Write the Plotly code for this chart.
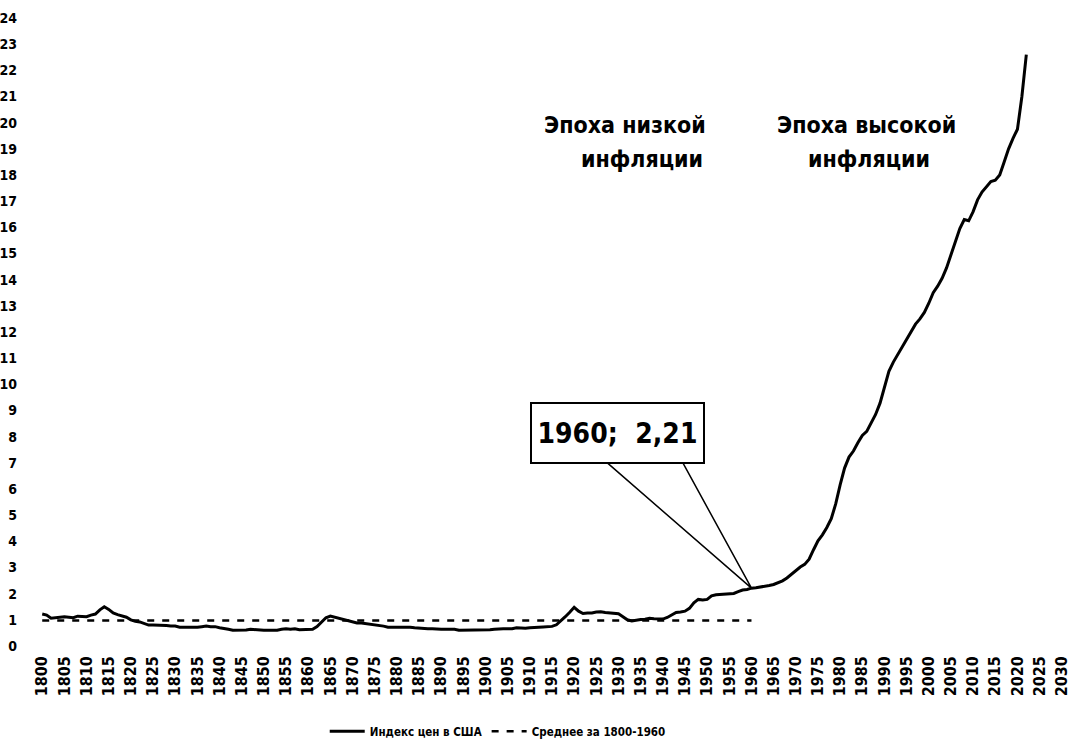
import plotly.graph_objects as go

years = list(range(1800, 2023))
price_index = [
    1.22, 1.18, 1.06, 1.08, 1.10, 1.12, 1.10, 1.08, 1.14, 1.12,   # 1800-1809
    1.12, 1.18, 1.22, 1.38, 1.50, 1.40, 1.26, 1.20, 1.14, 1.10,   # 1810-1819
    1.00, 0.94, 0.92, 0.86, 0.80, 0.80, 0.80, 0.80, 0.78, 0.76,   # 1820-1829
    0.76, 0.72, 0.72, 0.70, 0.72, 0.72, 0.74, 0.76, 0.74, 0.74,   # 1830-1839
    0.70, 0.68, 0.64, 0.60, 0.60, 0.60, 0.61, 0.64, 0.62, 0.60,   # 1840-1849
    0.60, 0.60, 0.60, 0.60, 0.64, 0.66, 0.64, 0.66, 0.62, 0.62,   # 1850-1859
    0.62, 0.64, 0.74, 0.92, 1.08, 1.14, 1.10, 1.04, 1.00, 0.98,   # 1860-1869
    0.94, 0.88, 0.88, 0.86, 0.82, 0.80, 0.78, 0.76, 0.72, 0.72,   # 1870-1879
    0.74, 0.74, 0.74, 0.72, 0.70, 0.68, 0.66, 0.66, 0.66, 0.64,   # 1880-1889
    0.64, 0.64, 0.64, 0.64, 0.60, 0.60, 0.60, 0.60, 0.60, 0.60,   # 1890-1899
    0.62, 0.62, 0.64, 0.66, 0.66, 0.66, 0.66, 0.70, 0.68, 0.68,   # 1900-1909
    0.70, 0.70, 0.72, 0.73, 0.74, 0.75, 0.81, 0.95, 1.12, 1.29,   # 1910-1919
    1.48, 1.33, 1.24, 1.26, 1.26, 1.30, 1.31, 1.28, 1.26, 1.26,   # 1920-1929
    1.23, 1.12, 1.00, 0.96, 0.99, 1.01, 1.02, 1.06, 1.04, 1.03,   # 1930-1939
    1.03, 1.09, 1.20, 1.28, 1.30, 1.33, 1.44, 1.65, 1.78, 1.76,   # 1940-1949
    1.78, 1.92, 1.96, 1.97, 1.98, 1.98, 2.01, 2.08, 2.14, 2.16,   # 1950-1959
    2.21, 2.23, 2.25, 2.28, 2.31, 2.35, 2.42, 2.49, 2.60, 2.74,   # 1960-1969
    2.90, 3.02, 3.12, 3.32, 3.68, 4.02, 4.25, 4.53, 4.87, 5.43,   # 1970-1979
    6.16, 6.80, 7.22, 7.45, 7.77, 8.05, 8.20, 8.50, 8.85, 9.28,   # 1980-1989
    9.85, 10.50, 10.85, 11.15, 11.45, 11.75, 12.05, 12.30, 12.50, 12.75,  # 1990-1999
    13.10, 13.50, 13.75, 14.05, 14.45, 14.95, 15.50, 15.95, 16.30, 16.25,  # 2000-2009
    16.60, 17.05, 17.35, 17.55, 17.75, 17.80, 18.00, 18.50, 19.00, 19.40,  # 2010-2019
    19.75, 21.00, 22.60,                                            # 2020-2022
]

avg_years = [1800, 1960]
avg_value = [0.97, 0.97]

tick_years = list(range(1800, 2031, 5))
tick_labels = [str(y) for y in tick_years]
y_ticks = list(range(0, 25))

label_point_year = 1960
label_point_value = 2.21
label_text = "1960;\u00a0 2,21"
era_low = ["Эпоха низкой", "инфляции"]
era_high = ["Эпоха высокой", "инфляции"]

FONT = "Liberation Sans Narrow, DejaVu Sans Condensed, Arial Narrow, DejaVu Sans, sans-serif"

fig = go.Figure()
fig.add_trace(go.Scatter(
    x=years, y=price_index, mode="lines", name="Индекс цен в США",
    line=dict(color="black", width=3),
))
fig.add_trace(go.Scatter(
    x=avg_years, y=avg_value, mode="lines", name="Среднее за 1800-1960",
    line=dict(color="black", width=2.5, dash="7px,8px"),
))

# data callout
fig.add_annotation(
    x=label_point_year, y=label_point_value, xref="x", yref="y",
    text=label_text, showarrow=False, xshift=-134, yshift=155,
    xanchor="center", yanchor="middle",
    width=163, height=50,
    font=dict(family=FONT, size=28, color="black", weight="bold"),
    bordercolor="black", borderwidth=2, borderpad=4, bgcolor="white",
)
fig.add_shape(
    type="path", xref="x", yref="y", xsizemode="pixel", ysizemode="pixel",
    xanchor=label_point_year, yanchor=label_point_value,
    path="M-145,126 L0,0 L-69,126",
    line=dict(color="black", width=1.5),
)

era_font = dict(family=FONT, size=23, color="black", weight="bold")
for txt, xp, yp in [(era_low[0], 0.571, 0.8297), (era_low[1], 0.588, 0.776),
                    (era_high[0], 0.807, 0.8297), (era_high[1], 0.810, 0.776)]:
    fig.add_annotation(x=xp, y=yp, xref="paper", yref="paper", text=txt,
                       showarrow=False, xanchor="center", yanchor="middle", font=era_font)

fig.update_layout(
    width=1069, height=751,
    margin=dict(l=40, r=5, t=18, b=99),
    paper_bgcolor="white", plot_bgcolor="white",
    showlegend=True,
    legend=dict(
        orientation="h", x=0.447, xanchor="center", y=-0.1356, yanchor="middle",
        font=dict(family=FONT, size=11.5, color="black", weight="bold"),
        itemwidth=35, bgcolor="rgba(0,0,0,0)",
    ),
    xaxis=dict(
        range=[1799.5, 2030.5], tickmode="array", tickvals=tick_years, ticktext=tick_labels,
        tickangle=-90, showgrid=False, zeroline=False, showline=False, ticks="",
        tickfont=dict(family=FONT, size=16, color="black", weight="bold"),
        ticklabelstandoff=6, automargin=False, ticklabeloverflow="allow",
    ),
    yaxis=dict(
        range=[0, 24], tickmode="array", tickvals=y_ticks,
        showgrid=False, zeroline=False, showline=False, ticks="",
        tickfont=dict(family=FONT, size=14, color="black", weight="bold"),
        ticklabelstandoff=22, automargin=False, ticklabeloverflow="allow",
    ),
)

page_fix = (
    "document.documentElement.style.margin='0';document.body.style.margin='0';"
    "document.documentElement.style.overflow='hidden';document.body.style.overflow='hidden';"
    "document.querySelectorAll('.svg-container').forEach(function(e){e.style.verticalAlign='top';});"
    "document.querySelectorAll('.plotly-graph-div').forEach(function(e){e.style.overflow='hidden';"
    "if(e.parentElement){e.parentElement.style.height='751px';e.parentElement.style.overflow='hidden';}});"
)
fig.write_html("out.html", post_script=page_fix, config={"displayModeBar": False})
